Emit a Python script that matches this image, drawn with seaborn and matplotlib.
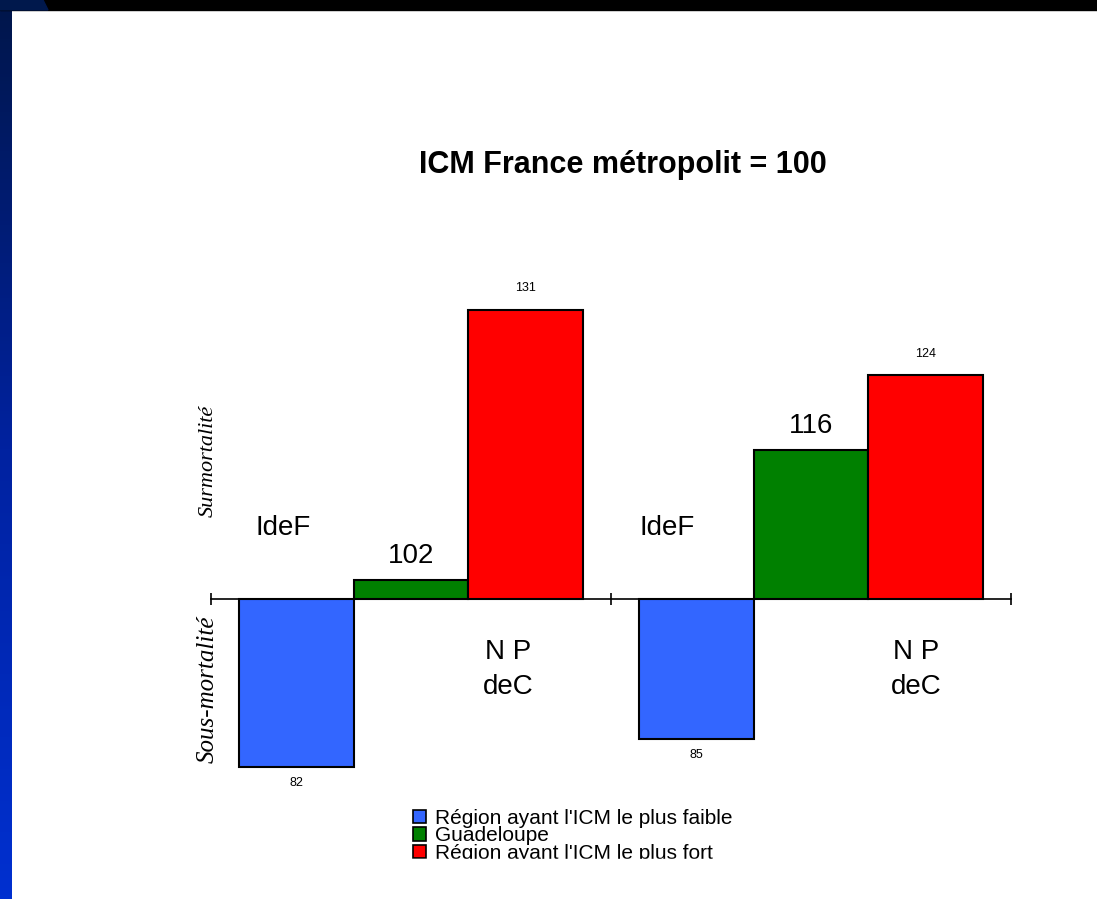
import matplotlib.pyplot as plt
import numpy as np
import pandas as pd
import seaborn as sns
from matplotlib.colors import LinearSegmentedColormap
from matplotlib.patches import Patch, Polygon, Rectangle

# data: ICM (France metropolitaine = 100)
groups = ["1", "2"]
categories = ["Région ayant l'ICM le plus faible", "Guadeloupe", "Région ayant l'ICM le plus fort"]
values_faible = [82, 85]
values_guadeloupe = [102, 116]
values_fort = [131, 124]
reference = 100
colors = ["#3366FF", "#008000", "#FF0000"]
region_top = ["IdeF", "IdeF"]
region_bottom = ["N P\ndeC", "N P\ndeC"]

rows = []
for cat, vals in zip(categories, [values_faible, values_guadeloupe, values_fort]):
    for g, v in zip(groups, vals):
        rows.append({"group": g, "category": cat, "value": v, "diff": v - reference})
df = pd.DataFrame(rows)

sns.set_style("white")
plt.rcParams['font.family'] = ['Liberation Sans', 'DejaVu Sans']
plt.rcParams['text.color'] = 'black'

W, H = 1097, 899
fig = plt.figure(figsize=(W / 100, H / 100), dpi=100)
fig.patch.set_facecolor("white")

# slide frame
strip = fig.add_axes([0, 0, 12 / W, 1])
grad = np.linspace(0, 1, 256).reshape(-1, 1)
cmap = LinearSegmentedColormap.from_list("frame", ["#00164a", "#0022a0", "#0030d0"])
strip.imshow(grad, aspect="auto", cmap=cmap)
strip.axis("off")
fig.add_artist(Rectangle((0, 1 - 10 / H), 1, 10 / H, transform=fig.transFigure,
                         color="black", zorder=1))
fig.add_artist(Polygon([(0, 1), (43 / W, 1), (48 / W, 1 - 10 / H), (0, 1 - 10 / H)],
                       transform=fig.transFigure, color="#00184c", zorder=2))

# main axes: baseline at pixel y=599, 9.33 px per unit
scale = 9.33
top_px, bot_px = 272, 786
ax = fig.add_axes([211 / W, (H - bot_px) / H, 800 / W, (bot_px - top_px) / H])
sns.barplot(data=df, x="group", y="diff", hue="category", hue_order=categories,
            palette=colors, saturation=1, width=0.86, edgecolor="black",
            linewidth=1.5, errorbar=None, legend=False, ax=ax)
ax.set_xlim(-0.5, 1.5)
ax.set_ylim(-(bot_px - 599) / scale, (599 - top_px) / scale)
for s in ["left", "right", "top"]:
    ax.spines[s].set_visible(False)
ax.spines["bottom"].set_position(("data", 0))
ax.spines["bottom"].set_linewidth(1.2)
ax.spines["bottom"].set_color("black")
ax.spines["bottom"].set_zorder(0.5)
ax.set_xticks([-0.5, 0.5, 1.5])
ax.set_xticklabels(["", "", ""])
ax.tick_params(axis="x", bottom=True, direction="inout", length=9, width=1.2, color="black")
ax.set_yticks([])
ax.set_xlabel("")
ax.set_ylabel("")

# value labels
label_vals = [values_faible, values_guadeloupe, values_fort]
for i, cont in enumerate(ax.containers):
    labs = [str(v) for v in label_vals[i]]
    if i == 1:
        ax.bar_label(cont, labels=labs, padding=8, fontsize=20)
    elif i == 0:
        ax.bar_label(cont, labels=labs, padding=7, fontsize=9)
    else:
        ax.bar_label(cont, labels=labs, padding=11, fontsize=9)

# region names
top_x = [-0.32, 0.64]
bottom_x = [0.2425, 1.2625]
for gi in range(len(groups)):
    ax.text(top_x[gi], 7.6, region_top[gi], fontsize=20, ha="center", va="center")
    ax.text(bottom_x[gi], -7.6, region_bottom[gi], fontsize=20,
            ha="center", va="center", linespacing=1.45)

fig.text(623 / W, 1 - 165 / H, "ICM France métropolit = 100", fontsize=22,
         fontweight="bold", ha="center", va="center")
fig.text(208 / W, 1 - 461 / H, "Surmortalité", rotation=90, family="Liberation Serif",
         style="italic", fontsize=16, ha="center", va="center")
fig.text(208 / W, 1 - 689 / H, "Sous-mortalité", rotation=90, family="Liberation Serif",
         style="italic", fontsize=18, ha="center", va="center")

handles = [Patch(facecolor=c, edgecolor="black", linewidth=1.2, label=l)
           for c, l in zip(colors, categories)]
fig.legend(handles=handles, loc="upper left", bbox_to_anchor=(413 / W, 1 - 809 / H),
           frameon=False, fontsize=15, handlelength=0.6, handleheight=0.6,
           labelspacing=-0.08, handletextpad=0.45, borderpad=0, borderaxespad=0)
# the bottom line is cut off in the original
fig.add_artist(Rectangle((380 / W, 0), 500 / W, (H - 859) / H, transform=fig.transFigure,
                         color="white", zorder=10))

fig.savefig("out.png", dpi=100)
